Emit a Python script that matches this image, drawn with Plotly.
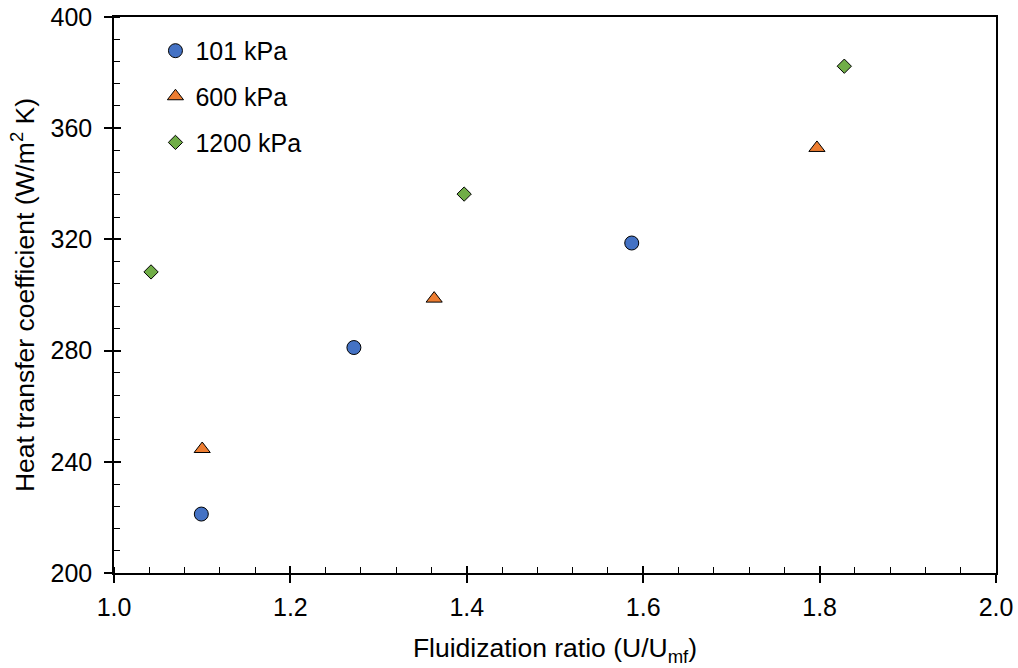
import plotly.graph_objects as go

# Measured heat transfer coefficient vs fluidization ratio at three pressures
ratio_101 = [1.099, 1.272, 1.587]
htc_101 = [221.2, 281.1, 318.7]

ratio_600 = [1.100, 1.363, 1.797]
htc_600 = [244.6, 298.7, 352.9]

ratio_1200 = [1.042, 1.397, 1.828]
htc_1200 = [308.3, 336.3, 382.3]

x_ticks = [1.0, 1.2, 1.4, 1.6, 1.8, 2.0]
y_ticks = [200, 240, 280, 320, 360, 400]

FONT = "Liberation Sans, Arial, sans-serif"
TICK_SIZE = 25
TITLE_SIZE = 26.5
LEGEND_SIZE = 25

fig = go.Figure()

fig.add_trace(go.Scatter(
    x=ratio_101, y=htc_101, mode="markers", name="101 kPa", legend="legend",
    marker=dict(symbol="circle", size=14, color="#4472C4",
                line=dict(color="black", width=1)),
))
fig.add_trace(go.Scatter(
    x=ratio_600, y=htc_600, mode="markers", name="600 kPa", legend="legend2",
    marker=dict(symbol="triangle-up", size=14, color="#ED7D31",
                line=dict(color="black", width=1)),
))
fig.add_trace(go.Scatter(
    x=ratio_1200, y=htc_1200, mode="markers", name="1200 kPa", legend="legend3",
    marker=dict(symbol="diamond", size=11, color="#70AD47",
                line=dict(color="black", width=1)),
))

axis_common = dict(
    showgrid=False, zeroline=False, showline=True, linecolor="black",
    linewidth=1.5, mirror=True, tickcolor="black", tickwidth=1.5,
    tickfont=dict(family=FONT, size=TICK_SIZE, color="black"),
    automargin=False,
)

legend_common = dict(
    x=0.047, xanchor="left", bgcolor="rgba(0,0,0,0)",
    font=dict(family=FONT, size=LEGEND_SIZE, color="black"),
    borderwidth=0, itemwidth=30,
)

fig.update_layout(
    template="none",
    width=1018, height=668,
    margin=dict(l=114, r=22, t=17, b=95),
    plot_bgcolor="white", paper_bgcolor="white",
    font=dict(family=FONT, size=TICK_SIZE, color="black"),
    xaxis=dict(
        **axis_common, range=[1.0, 2.0], tickvals=x_ticks,
        ticktext=[f"{v:.1f}" for v in x_ticks],
        ticks="outside", ticklen=8, ticklabelstandoff=3,
        minor=dict(dtick=0.04, ticks="inside", ticklen=6,
                   tickcolor="black", tickwidth=1.2),
        title=dict(text="Fluidization ratio (U/U<sub>mf</sub>)",
                   font=dict(family=FONT, size=TITLE_SIZE), standoff=19),
    ),
    yaxis=dict(
        **axis_common, range=[200, 400], tickvals=y_ticks,
        ticks="outside", ticklen=8, ticklabelstandoff=7,
        minor=dict(dtick=8, ticks="inside", ticklen=6,
                   tickcolor="black", tickwidth=1.2),
        title=dict(text="Heat transfer coefficient (W/m<sup>2</sup> K)",
                   font=dict(family=FONT, size=TITLE_SIZE), standoff=8),
    ),
    # overlay axes carry the inner half of each major tick
    xaxis2=dict(overlaying="x", range=[1.0, 2.0], tickvals=x_ticks,
                ticks="inside", ticklen=7, tickwidth=1.5, tickcolor="black",
                showticklabels=False, showgrid=False, zeroline=False,
                showline=False, side="bottom", anchor="y"),
    yaxis2=dict(overlaying="y", range=[200, 400], tickvals=y_ticks,
                ticks="inside", ticklen=7, tickwidth=1.5, tickcolor="black",
                showticklabels=False, showgrid=False, zeroline=False,
                showline=False, side="left", anchor="x"),
    legend=dict(**legend_common, y=0.939, yanchor="middle"),
    legend2=dict(**legend_common, y=0.857, yanchor="middle"),
    legend3=dict(**legend_common, y=0.774, yanchor="middle"),
)

# invisible trace so the overlay axes are drawn
fig.add_trace(go.Scatter(x=[1.0], y=[200], xaxis="x2", yaxis="y2",
                         mode="markers", marker=dict(opacity=0),
                         showlegend=False, hoverinfo="skip"))

fig.write_html("out.html")
